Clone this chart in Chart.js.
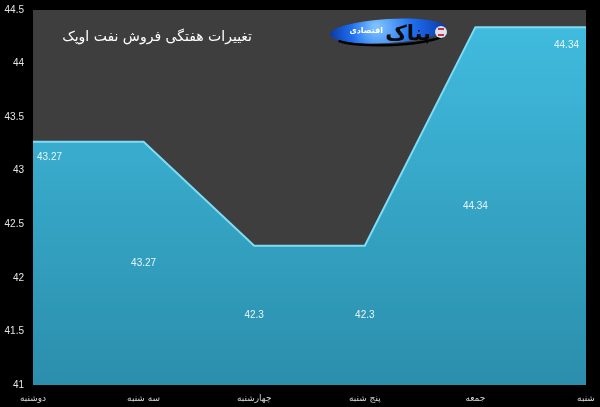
<!DOCTYPE html>
<html>
<head>
<meta charset="utf-8">
<script src="https://cdn.jsdelivr.net/npm/chart.js@4/dist/chart.umd.min.js"></script>
<style>
html,body{margin:0;padding:0;background:#000;}
#wrap{width:600px;height:407px;position:relative;}
</style>
</head>
<body>
<div id="wrap"><canvas id="c" width="600" height="407"></canvas></div>
<script>
const days = ["دوشنبه","سه شنبه","چهارشنبه","پنج شنبه","جمعه","شنبه"];
const sales = [43.27, 43.27, 42.3, 42.3, 44.34, 44.34];
const yTicks = [41, 41.5, 42, 42.5, 43, 43.5, 44, 44.5];
const chartTitle = "تغییرات هفتگی فروش نفت اوپک";
const logoText = "بناک";
const logoSub = "اقتصادی";

const bgPlugin = {
  id: 'bg',
  beforeDraw(chart) {
    const {ctx, chartArea: a} = chart;
    ctx.save();
    ctx.fillStyle = '#000';
    ctx.fillRect(0, 0, chart.width, chart.height);
    ctx.fillStyle = '#3e3e3e';
    ctx.fillRect(a.left, a.top, a.right - a.left, a.bottom - a.top);
    ctx.restore();
  },
  beforeDatasetsDraw(chart) {
    const {ctx} = chart;
    ctx.save();
    // title
    ctx.fillStyle = '#ffffff';
    ctx.font = '14px "DejaVu Sans"';
    ctx.textAlign = 'right';
    ctx.textBaseline = 'middle';
    ctx.direction = 'rtl';
    ctx.fillText(chartTitle, 252, 37);
    // logo
    const cx = 388, cy = 31;
    const g = ctx.createRadialGradient(cx - 12, cy - 4, 3, cx, cy, 58);
    g.addColorStop(0, '#7cc0ff');
    g.addColorStop(0.5, '#1f6ff0');
    g.addColorStop(1, '#0b3aa8');
    ctx.beginPath();
    ctx.ellipse(cx, cy, 58, 12, -0.06, 0, Math.PI * 2);
    ctx.fillStyle = g;
    ctx.fill();
    ctx.beginPath();
    ctx.ellipse(cx + 2, cy + 4, 56, 10, -0.04, 0.15, Math.PI - 0.4);
    ctx.strokeStyle = '#000';
    ctx.lineWidth = 2.5;
    ctx.stroke();
    ctx.fillStyle = '#0a0a0a';
    ctx.font = 'bold 21px "DejaVu Sans"';
    ctx.textBaseline = 'alphabetic';
    ctx.fillText(logoText, 431, 40);
    ctx.fillStyle = '#ffffff';
    ctx.font = 'bold 8px "DejaVu Sans"';
    ctx.fillText(logoSub, 383, 33);
    ctx.fillStyle = '#d8e2f2';
    ctx.beginPath();
    ctx.arc(441, 32, 6, 0, Math.PI * 2);
    ctx.fill();
    ctx.fillStyle = '#d03030';
    ctx.fillRect(438, 28, 6, 2);
    ctx.fillRect(438, 34, 6, 2);
    ctx.restore();
  },
  afterDatasetsDraw(chart) {
    const {ctx, chartArea: a} = chart;
    const meta = chart.getDatasetMeta(0);
    ctx.save();
    ctx.fillStyle = '#e6f6fb';
    ctx.font = '10px "Liberation Sans"';
    ctx.textBaseline = 'middle';
    const n = meta.data.length;
    meta.data.forEach((pt, i) => {
      const txt = String(sales[i]);
      if (i === 0) {
        ctx.textAlign = 'left';
        ctx.fillText(txt, pt.x + 4, pt.y + 15);
      } else if (i === n - 1) {
        ctx.textAlign = 'right';
        ctx.fillText(txt, pt.x - 7, pt.y + 18);
      } else {
        ctx.textAlign = 'center';
        ctx.fillText(txt, pt.x, (pt.y + a.bottom) / 2);
      }
    });
    ctx.restore();
  }
};

new Chart(document.getElementById('c'), {
  type: 'line',
  data: {
    labels: days,
    datasets: [{
      data: sales,
      borderColor: '#7fdcf6',
      borderWidth: 2,
      pointRadius: 0,
      tension: 0,
      fill: 'start',
      backgroundColor(ctx) {
        const a = ctx.chart.chartArea;
        if (!a) return '#36a9cc';
        const g = ctx.chart.ctx.createLinearGradient(0, a.top, 0, a.bottom);
        g.addColorStop(0, '#41bde0');
        g.addColorStop(1, '#2b8eac');
        return g;
      }
    }]
  },
  options: {
    responsive: false,
    animation: false,
    layout: {padding: {top: 10, right: 14, left: 0, bottom: 0}},
    plugins: {legend: {display: false}, tooltip: {enabled: false}, title: {display: false}},
    scales: {
      x: {
        offset: false,
        grid: {display: false, drawTicks: false},
        border: {display: false},
        afterFit(s) { s.height = 22; s.paddingLeft = 0; s.paddingRight = 0; },
        ticks: {
          color: '#d4d4d4',
          font: {family: '"DejaVu Sans"', size: 9},
          maxRotation: 0, minRotation: 0, autoSkip: false, padding: 8
        }
      },
      y: {
        min: 41, max: 44.5,
        afterBuildTicks(s) { s.ticks = yTicks.map(v => ({value: v})); },
        grid: {display: false, drawTicks: false},
        border: {display: false},
        afterFit(s) { s.width = 33; s.paddingTop = 0; s.paddingBottom = 0; },
        ticks: {
          color: '#e4e4e4',
          font: {family: '"Liberation Sans"', size: 10},
          padding: 9,
          callback: v => String(v)
        }
      }
    }
  },
  plugins: [bgPlugin]
});
</script>
</body>
</html>
